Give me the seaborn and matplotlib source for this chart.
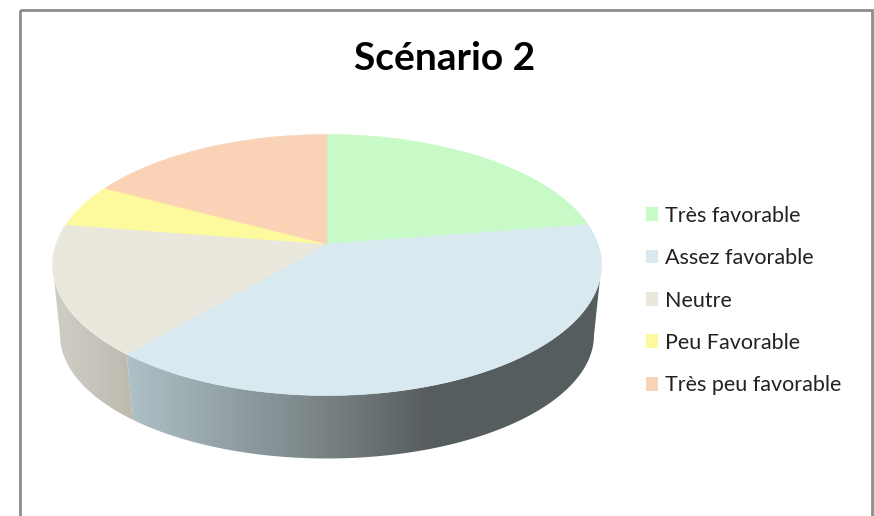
import numpy as np
import matplotlib
matplotlib.use("Agg")
import matplotlib.pyplot as plt
from matplotlib.colors import LinearSegmentedColormap
from matplotlib.patches import Patch, Polygon, Rectangle
import seaborn as sns

# ── data ──────────────────────────────────────────────────────────────────────

CATEGORIES = ["Très favorable", "Assez favorable", "Neutre", "Peu Favorable", "Très peu favorable"]
VALUES = [20, 43, 17, 5, 15]
COLORS = ["#C7FAC6", "#D8E9F0", "#EAE8DD", "#FCFA9C", "#FAD3B6"]
TITLE = "Scénario 2"

# ── style ─────────────────────────────────────────────────────────────────────

sns.set_theme(style="white")
plt.rcParams["font.family"] = ["Lato", "DejaVu Sans"]
palette = sns.color_palette(COLORS)

W, H = 874, 516
APEX = (327, 244)
TOP = (327, 265, 274.5, 130.5)      # cx, cy, rx, ry of the upper rim
BOTTOM = (327, 335, 267, 123.5)     # lower rim, smaller because of the perspective

NEUTRE_SIDE = ["#CFCEC6", "#BDB9AF"]
ASSEZ_SIDE = [(0.0, "#AEC1C7"), (0.42, "#788284"), (0.64, "#575D5E"), (1.0, "#565E5F")]


def arc(ellipse, a0, a1, n=120):
    """Points on an ellipse, angles in degrees clockwise from the top."""
    cx, cy, rx, ry = ellipse
    t = np.radians(np.linspace(a0, a1, n))
    return np.column_stack([cx + rx * np.sin(t), cy - ry * np.cos(t)])


def side(ax, a0, a1, b0, b1, cmap):
    """One piece of the wall, a horizontal gradient clipped to the rims."""
    pts = np.vstack([arc(TOP, a0, a1), arc(BOTTOM, b1, b0)])
    clip = Polygon(pts, closed=True, transform=ax.transData, fc="none", ec="none")
    ax.add_patch(clip)
    x0, x1 = pts[:, 0].min(), pts[:, 0].max()
    img = ax.imshow(np.linspace(0, 1, 256)[None, :], cmap=cmap, aspect="auto",
                    extent=(x0, x1, H, 0), zorder=1)
    img.set_clip_path(clip)


fig = plt.figure(figsize=(W / 100, H / 100), dpi=100)
ax = fig.add_axes([0, 0, 1, 1])

# ── wall ──────────────────────────────────────────────────────────────────────

edges = 360 * np.cumsum([0] + VALUES) / sum(VALUES)
front = edges[2]    # where Assez favorable hands over to Neutre

# the gradient runs left to right, so the Assez stops apply from the front edge
side(ax, 96, front, 90, front, LinearSegmentedColormap.from_list("assez", ASSEZ_SIDE))
side(ax, front, 264, front, 270, LinearSegmentedColormap.from_list("neutre", NEUTRE_SIDE))

# ── top face ──────────────────────────────────────────────────────────────────

for i, color in enumerate(palette):
    pts = np.vstack([[APEX], arc(TOP, edges[i], edges[i + 1])])
    ax.add_patch(Polygon(pts, closed=True, fc=color, ec=color, lw=0.4, zorder=2))

# ── frame, title, legend ──────────────────────────────────────────────────────

ax.add_patch(Rectangle((19.5, 9.5), 852.5, H, fc="none", ec="#8C8C8C", lw=2, zorder=3))
ax.text(445, 59, TITLE, ha="center", va="center", fontsize=28, fontweight="bold", color="black")

handles = [Patch(fc=c, ec="none") for c in palette]
ax.legend(handles, CATEGORIES, loc="center left", bbox_to_anchor=(646 / W, 1 - 300.5 / H),
          frameon=False, fontsize=15.5, labelspacing=1.04, handlelength=0.56, handleheight=0.6,
          handletextpad=0.33, labelcolor="#222222", borderpad=0, borderaxespad=0)

ax.set_xlim(0, W)
ax.set_ylim(H, 0)
ax.axis("off")

fig.savefig("out.png", dpi=100, facecolor="white")
